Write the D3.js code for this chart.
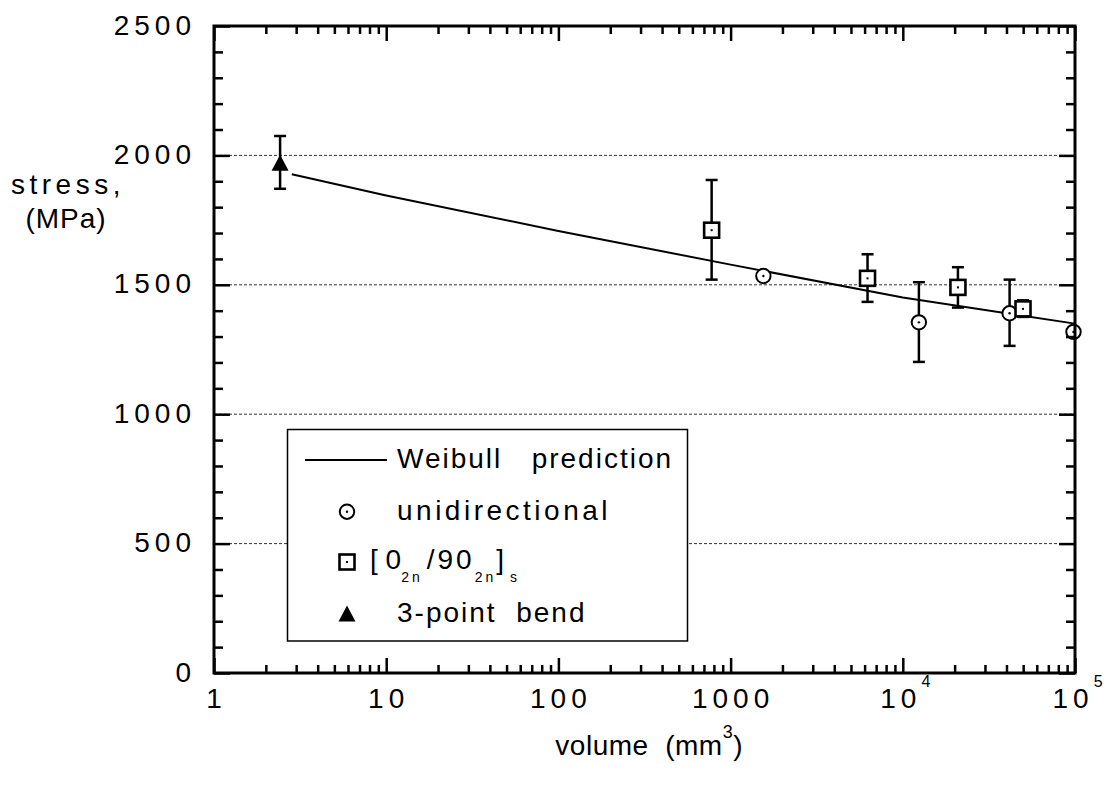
<!DOCTYPE html>
<html>
<head>
<meta charset="utf-8">
<script src="https://cdn.jsdelivr.net/npm/d3@7"></script>
<style>
  body { margin: 0; background: #fff; }
  svg text { font-family: "Liberation Sans", Arial, sans-serif; fill: #000; }
</style>
</head>
<body>
<svg id="chart"></svg>
<script>
// values
const weibullVolume = [2.83, 10, 100, 1000, 1e4, 1e5];
const weibullStress = [1927, 1845, 1708, 1578, 1451, 1350];

const uniVolume = [1550, 12400, 41700, 98000];
const uniStress = [1534, 1355, 1390, 1318];
const uniHigh = [null, 1510, 1520, null];
const uniLow = [null, 1202, 1264, null];

const crossVolume = [776, 6240, 20900, 49900];
const crossStress = [1711, 1525, 1490, 1407];
const crossHigh = [1905, 1618, 1568, 1440];
const crossLow = [1520, 1434, 1412, 1376];

const bendVolume = [2.42];
const bendStress = [1970];
const bendHigh = [2075];
const bendLow = [1871];

const xTickValues = [1, 10, 100, 1000, 1e4, 1e5];
const xTickBase = ['1', '10', '100', '1000', '10', '10'];
const xTickSup = ['', '', '', '', '4', '5'];
const yTickValues = [0, 500, 1000, 1500, 2000, 2500];
const gridValues = [500, 1000, 1500, 2000];

const svgWidth = 1106;
const svgHeight = 790;
const margin = { top: 26, right: 31, bottom: 117, left: 214 };
const chartWidth = svgWidth - margin.left - margin.right;
const chartHeight = svgHeight - margin.top - margin.bottom;

const svg = d3.select('#chart')
  .attr('width', svgWidth)
  .attr('height', svgHeight);

const x = d3.scaleLog().domain([1, 1e5]).range([0, chartWidth]);
const y = d3.scaleLinear().domain([0, 2500]).range([chartHeight, 0]);

const g = svg.append('g')
  .attr('transform', `translate(${margin.left},${margin.top})`);

const toPoints = (vol, st, hi, lo) => vol.map((v, i) => ({ v, s: st[i], hi: hi[i], lo: lo[i] }));
const uni = toPoints(uniVolume, uniStress, uniHigh, uniLow);
const cross = toPoints(crossVolume, crossStress, crossHigh, crossLow);
const bend = toPoints(bendVolume, bendStress, bendHigh, bendLow);
const weibull = weibullVolume.map((v, i) => ({ v, s: weibullStress[i] }));

// dotted grid
g.selectAll('.grid')
  .data(gridValues)
  .enter().append('line')
  .attr('class', 'grid')
  .attr('x1', 0).attr('x2', chartWidth)
  .attr('y1', d => y(d)).attr('y2', d => y(d))
  .attr('stroke', '#333')
  .attr('stroke-width', 1)
  .attr('stroke-dasharray', '3,2');

// weibull line
g.append('path')
  .datum(weibull)
  .attr('fill', 'none')
  .attr('stroke', '#000')
  .attr('stroke-width', 2)
  .attr('d', d3.line().x(d => x(d.v)).y(d => y(d.s)));

// error bars
const withErr = [...uni, ...cross, ...bend].filter(d => d.hi != null);
const eb = g.selectAll('.err').data(withErr).enter().append('g').attr('class', 'err')
  .attr('stroke', '#000').attr('stroke-width', 2.5);
eb.append('line').attr('x1', d => x(d.v)).attr('x2', d => x(d.v))
  .attr('y1', d => y(d.hi)).attr('y2', d => y(d.lo));
eb.append('line').attr('x1', d => x(d.v) - 6).attr('x2', d => x(d.v) + 6)
  .attr('y1', d => y(d.hi)).attr('y2', d => y(d.hi));
eb.append('line').attr('x1', d => x(d.v) - 6).attr('x2', d => x(d.v) + 6)
  .attr('y1', d => y(d.lo)).attr('y2', d => y(d.lo));

function drawMarker(parent, type, cx, cy) {
  const m = parent.append('g').attr('transform', `translate(${cx},${cy})`);
  if (type === 'circle') {
    m.append('circle').attr('r', 7.2).attr('fill', '#fff').attr('stroke', '#000').attr('stroke-width', 2);
    m.append('circle').attr('r', 1.2).attr('fill', '#000');
  } else if (type === 'square') {
    m.append('rect').attr('x', -7.5).attr('y', -7.5).attr('width', 15).attr('height', 15)
      .attr('fill', '#fff').attr('stroke', '#000').attr('stroke-width', 2.6);
    m.append('rect').attr('x', -1).attr('y', -1).attr('width', 2).attr('height', 2).attr('fill', '#000');
  } else {
    m.append('path').attr('d', 'M0,-8.5L8.5,7.5L-8.5,7.5Z').attr('fill', '#000');
  }
}

uni.forEach(d => drawMarker(g, 'circle', x(d.v), y(d.s)));
cross.forEach(d => drawMarker(g, 'square', x(d.v), y(d.s)));
bend.forEach(d => drawMarker(g, 'triangle', x(d.v), y(d.s)));

// axes: ticks on all four sides, pointing inward
const minorX = [];
[1, 10, 100, 1000, 1e4].forEach(dec => d3.range(2, 10).forEach(k => minorX.push(dec * k)));
const minorY = d3.range(100, 2500, 100).filter(v => v % 500 !== 0);

function tickAxis(axis, transform, values, size) {
  g.append('g')
    .attr('transform', transform)
    .call(axis.tickValues(values).tickSize(size).tickSizeOuter(0).tickFormat(''))
    .call(s => s.select('.domain').remove())
    .selectAll('line')
    .attr('stroke', '#000')
    .attr('stroke-width', 2.5);
}
tickAxis(d3.axisBottom(x), `translate(0,${chartHeight})`, xTickValues, -15);
tickAxis(d3.axisBottom(x), `translate(0,${chartHeight})`, minorX, -8);
tickAxis(d3.axisTop(x), 'translate(0,0)', xTickValues, -15);
tickAxis(d3.axisTop(x), 'translate(0,0)', minorX, -8);
tickAxis(d3.axisLeft(y), 'translate(0,0)', yTickValues, -16);
tickAxis(d3.axisLeft(y), 'translate(0,0)', minorY, -9);
tickAxis(d3.axisRight(y), `translate(${chartWidth},0)`, yTickValues, -16);
tickAxis(d3.axisRight(y), `translate(${chartWidth},0)`, minorY, -9);

g.append('rect')
  .attr('width', chartWidth).attr('height', chartHeight)
  .attr('fill', 'none').attr('stroke', '#000').attr('stroke-width', 3);

// tick labels
g.selectAll('.ylab')
  .data(yTickValues)
  .enter().append('text')
  .attr('class', 'ylab')
  .attr('x', -18)
  .attr('y', d => y(d) + 8.5)
  .attr('text-anchor', 'end')
  .style('font-size', '28px')
  .style('letter-spacing', '5px')
  .text(d => d);

xTickValues.forEach((v, i) => {
  const t = g.append('text')
    .attr('x', x(v) + 2.5)
    .attr('y', chartHeight + 35)
    .attr('text-anchor', 'middle')
    .style('font-size', '28px')
    .style('letter-spacing', '5px');
  t.append('tspan').text(xTickBase[i]);
  if (xTickSup[i]) {
    t.append('tspan').attr('dy', -21).style('font-size', '16px').style('letter-spacing', '0px').text(xTickSup[i]);
  }
});

// axis titles
const xt = svg.append('text')
  .attr('x', 743)
  .attr('y', 755)
  .attr('text-anchor', 'end')
  .style('font-size', '28px')
  .style('letter-spacing', '0.5px')
  .style('white-space', 'pre');
xt.append('tspan').text('volume  (mm');
xt.append('tspan').attr('dy', -17).style('font-size', '18px').text('3');
xt.append('tspan').attr('dy', 17).text(')');

svg.append('text')
  .attr('x', 68).attr('y', 194)
  .attr('text-anchor', 'middle')
  .style('font-size', '28px')
  .style('letter-spacing', '4.5px')
  .text('stress,');
svg.append('text')
  .attr('x', 66).attr('y', 228)
  .attr('text-anchor', 'middle')
  .style('font-size', '28px')
  .style('letter-spacing', '1px')
  .text('(MPa)');

// legend
const legend = svg.append('g');
legend.append('rect')
  .attr('x', 287.5).attr('y', 429.5)
  .attr('width', 400).attr('height', 211.5)
  .attr('fill', '#fff').attr('stroke', '#000').attr('stroke-width', 1.5);

const rowY = [460, 511.7, 562, 614];
const symX = 347;
legend.append('line')
  .attr('x1', 305).attr('x2', 387)
  .attr('y1', rowY[0]).attr('y2', rowY[0])
  .attr('stroke', '#000').attr('stroke-width', 2);
drawMarker(legend, 'circle', symX, rowY[1]);
drawMarker(legend, 'square', symX, rowY[2]);
drawMarker(legend, 'triangle', symX, rowY[3]);

function legendText(xp, yp, ls, txt) {
  return legend.append('text')
    .attr('x', xp).attr('y', yp + 8)
    .style('font-size', '28px')
    .style('letter-spacing', ls + 'px')
    .style('white-space', 'pre')
    .text(txt);
}
legendText(397, rowY[0], 2, 'Weibull   prediction');
legendText(397, rowY[1], 3.5, 'unidirectional');
legendText(397, rowY[3], 2, '3-point  bend');

const lt = legend.append('text')
  .attr('x', 370).attr('y', rowY[2] + 7)
  .style('font-size', '28px')
  .style('white-space', 'pre');
lt.append('tspan').style('letter-spacing', '0px').text('[ 0');
lt.append('tspan').attr('dy', 13).style('font-size', '14px').style('letter-spacing', '3px').text('2n');
lt.append('tspan').attr('dy', -13).attr('dx', 4).style('letter-spacing', '3px').text('/90');
lt.append('tspan').attr('dy', 13).style('font-size', '14px').style('letter-spacing', '3px').text('2n');
lt.append('tspan').attr('dy', -13).style('letter-spacing', '0px').text(']');
lt.append('tspan').attr('dy', 13).attr('dx', 6).style('font-size', '14px').text('s');
</script>
</body>
</html>
